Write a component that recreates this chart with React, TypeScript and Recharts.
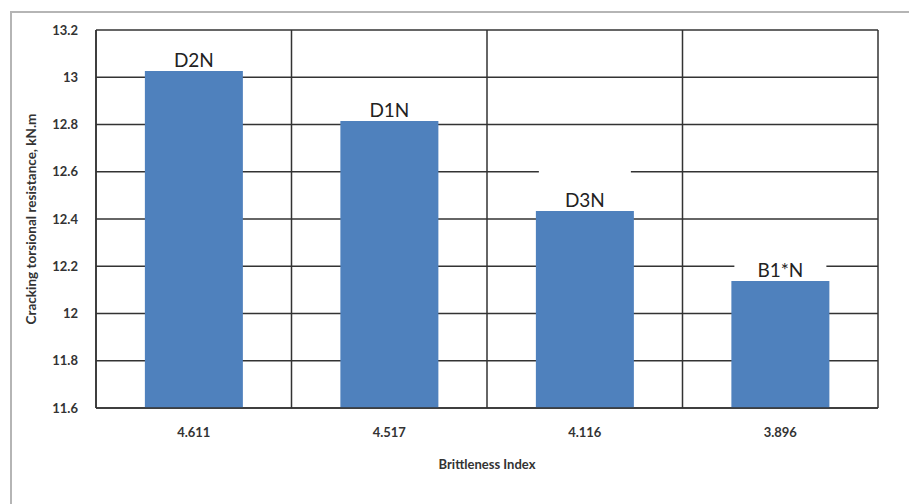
import React from "react";
import { BarChart, Bar, XAxis, YAxis, CartesianGrid, LabelList } from "recharts";

const categories = ["4.611", "4.517", "4.116", "3.896"];
const values = [13.026, 12.815, 12.434, 12.138];
const barLabels = ["D2N", "D1N", "D3N", "B1*N"];
const yTicks = [11.6, 11.8, 12, 12.2, 12.4, 12.6, 12.8, 13, 13.2];

const data = categories.map((c, i) => ({ name: c, value: values[i], label: barLabels[i] }));

const FONT = "Lato, 'Open Sans', 'DejaVu Sans', sans-serif";

const BarLabel = (props: any) => {
  const { x, y, width, value } = props;
  const cx = x + width / 2;
  const top = Math.max(y - 42, 32);
  return (
    <g>
      <rect x={cx - 46} y={top} width={92} height={y - 1 - top} fill="#ffffff" />
      <text x={cx} y={y - 4} textAnchor="middle" fontSize={19} fontFamily={FONT} fill="#222">
        {value}
      </text>
    </g>
  );
};

const fmt = (v: number) => String(Math.round(v * 10) / 10);

export default function App() {
  return (
    <div style={{ position: "absolute", left: 0, top: 0, width: 909, height: 504, background: "#fff" }}>
      <div
        style={{
          position: "absolute",
          left: 10,
          top: 11,
          width: 899,
          height: 493,
          borderTop: "2px solid #b5b5b5",
          borderLeft: "2px solid #b5b5b5",
          boxSizing: "border-box",
        }}
      />
      <div style={{ position: "absolute", left: 0, top: 0 }}>
        <BarChart
          width={909}
          height={504}
          data={data}
          margin={{ top: 30, right: 31, bottom: 0, left: 0 }}
          barCategoryGap="25%"
        >
          <CartesianGrid
            stroke="#333"
            strokeWidth={1.5}
            verticalCoordinatesGenerator={({ offset }: any) =>
              [0, 1, 2, 3, 4].map((i) => offset.left + (i * offset.width) / categories.length)
            }
          />
          <XAxis
            dataKey="name"
            axisLine={{ stroke: "#333", strokeWidth: 1.5 }}
            tickLine={false}
            tick={{ fontSize: 13, fontWeight: 700, fill: "#333", fontFamily: FONT }}
            tickMargin={14}
            label={{
              value: "Brittleness Index",
              position: "insideTop",
              offset: 52,
              style: { fontSize: 13, fontWeight: 700, fill: "#333", fontFamily: FONT },
            }}
            height={96}
          />
          <YAxis
            domain={[11.6, 13.2]}
            ticks={yTicks}
            tickFormatter={fmt}
            axisLine={{ stroke: "#333", strokeWidth: 1.5 }}
            tickLine={false}
            tick={{ fontSize: 13, fontWeight: 700, fill: "#333", fontFamily: FONT }}
            tickMargin={12}
            width={96}
            allowDataOverflow
            label={{
              value: "Cracking torsional resistance, kN.m",
              angle: -90,
              position: "insideLeft",
              dx: 26,
              dy: 0,
              style: { textAnchor: "middle", fontSize: 13.5, fontWeight: 700, fill: "#333", fontFamily: FONT },
            }}
          />
          <Bar dataKey="value" fill="#4F81BD" isAnimationActive={false}>
            <LabelList dataKey="label" content={<BarLabel />} />
          </Bar>
        </BarChart>
      </div>
    </div>
  );
}
